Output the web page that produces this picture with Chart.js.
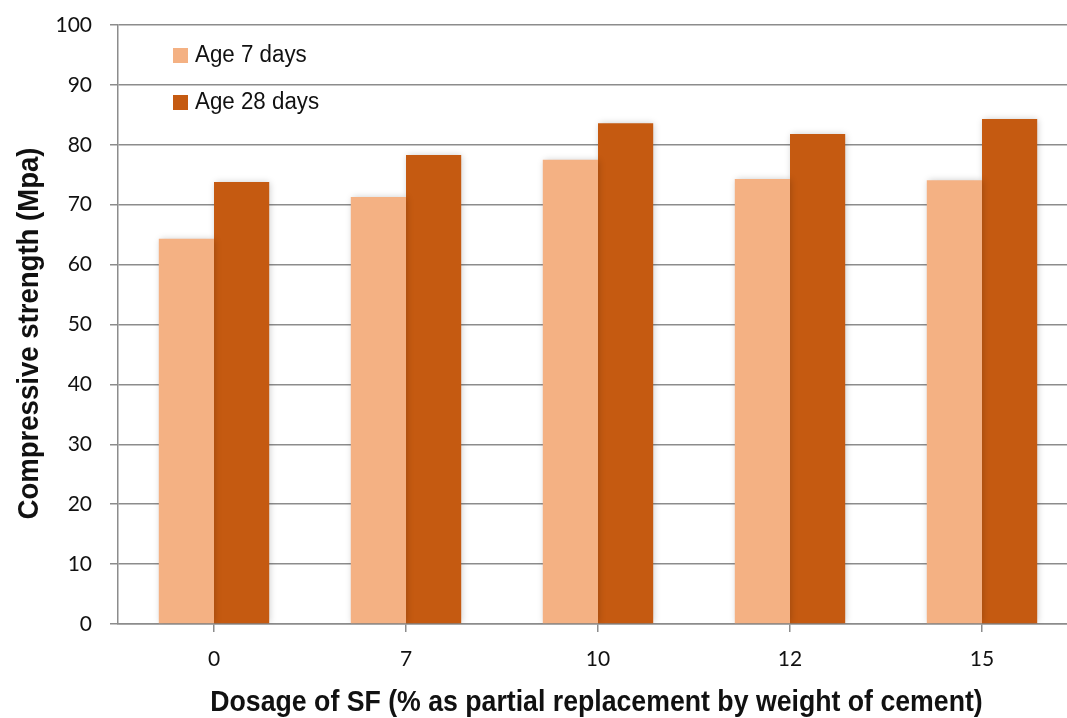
<!DOCTYPE html>
<html>
<head>
<meta charset="utf-8">
<script src="https://cdn.jsdelivr.net/npm/chart.js@4"></script>
<style>
  html, body { margin: 0; padding: 0; background: #fff; overflow: hidden; }
  #wrap { width: 1080px; height: 718px; }
</style>
</head>
<body>
<div id="wrap"><canvas id="chart" width="1080" height="718"></canvas></div>
<script>
// dosage of SF (%)
const dosages = ['0', '7', '10', '12', '15'];
// compressive strength (MPa)
const age7 = [64.3, 71.3, 77.5, 74.3, 74.1];
const age28 = [73.8, 78.3, 83.6, 81.8, 84.3];
const yTicks = [0, 10, 20, 30, 40, 50, 60, 70, 80, 90, 100];

const xTitle = 'Dosage of SF (% as partial replacement by weight of cement)';
const yTitle = 'Compressive strength (Mpa)';

const gridCol = '#8c8c8c';
const tickFont = { family: 'Lato, sans-serif', size: 21 };

// narrow-looking text: no condensed font here, so squeeze a regular one
function narrowText(c, txt, x, y, font, squeeze, align) {
  c.save();
  c.font = font;
  c.textBaseline = 'alphabetic';
  c.fillStyle = '#111';
  c.translate(x, y);
  c.scale(squeeze, 1);
  c.textAlign = align;
  c.fillText(txt, 0, 0);
  c.restore();
}

// soft shadow round the bars
const barShadow = {
  id: 'barShadow',
  beforeDatasetsDraw(chart) {
    const c = chart.ctx;
    c.save();
    c.shadowColor = 'rgba(0,0,0,0.22)';
    c.shadowBlur = 7;
    c.shadowOffsetX = 1;
    c.shadowOffsetY = 0;
  },
  afterDatasetsDraw(chart) {
    chart.ctx.restore();
  }
};

// titles + legend inside the plot, top left
const extras = {
  id: 'extras',
  afterDraw(chart) {
    const c = chart.ctx;
    const area = chart.chartArea;
    const bold = 'bold 29px "Liberation Sans", Arial, sans-serif';

    narrowText(c, xTitle, (area.left + 1067) / 2 + 4, 711, bold, 0.92, 'center');

    c.save();
    c.translate(38, (area.top + area.bottom) / 2 + 9);
    c.rotate(-Math.PI / 2);
    narrowText(c, yTitle, 0, 0, bold, 0.95, 'center');
    c.restore();

    chart.data.datasets.forEach((ds, i) => {
      const y = 62 + i * 47;
      c.fillStyle = ds.backgroundColor;
      c.fillRect(area.left + 55, y - 14, 15, 15);
      narrowText(c, ds.label, area.left + 77, y, '23.5px "Liberation Sans", Arial, sans-serif', 0.95, 'left');
    });
  }
};

const ctx = document.getElementById('chart');
new Chart(ctx, {
  type: 'bar',
  data: {
    labels: dosages,
    datasets: [
      { label: 'Age 7 days', data: age7, backgroundColor: '#f4b183' },
      { label: 'Age 28 days', data: age28, backgroundColor: '#c55a11' }
    ]
  },
  options: {
    responsive: false,
    animation: false,
    categoryPercentage: 0.575,
    barPercentage: 1,
    layout: { padding: { top: 25, right: 2, left: 0, bottom: 0 } },
    plugins: {
      tooltip: { enabled: false },
      legend: { display: false }
    },
    scales: {
      x: {
        grid: { display: true, drawOnChartArea: false, color: gridCol, lineWidth: 1.5, tickLength: 8, offset: false },
        border: { color: gridCol, width: 1.5 },
        ticks: { color: '#111', font: tickFont, padding: 15 },
        afterFit(scale) { scale.height = 94; }
      },
      y: {
        min: 0,
        max: 100,
        afterBuildTicks(scale) { scale.ticks = yTicks.map(v => ({ value: v })); },
        grid: { color: gridCol, lineWidth: 1.5, tickLength: 8 },
        border: { color: gridCol, width: 1.5 },
        ticks: { color: '#111', font: tickFont, padding: 18 },
        afterFit(scale) {
          scale.width = 118;
          scale.paddingTop = 0;
          scale.paddingBottom = 0;
        }
      }
    }
  },
  plugins: [barShadow, extras]
});
</script>
</body>
</html>
